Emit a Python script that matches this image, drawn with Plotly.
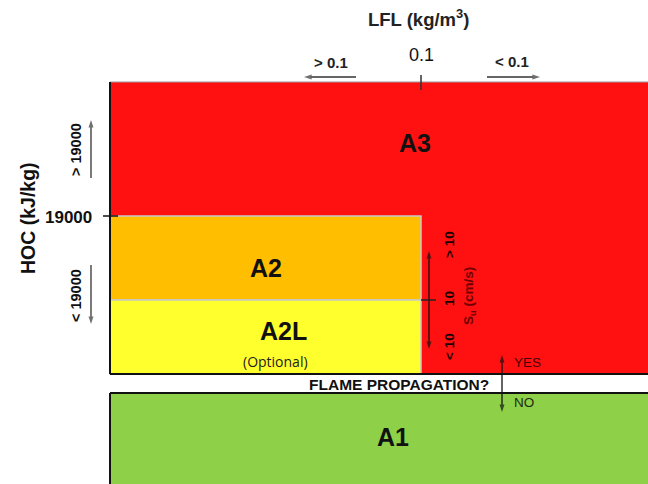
import plotly.graph_objects as go

# ---------------- data (classification scheme) ----------------
classes = ["A3", "A2", "A2L", "A1"]
class_notes = ["", "", "(Optional)", ""]
lfl_labels = ["> 0.1", "0.1", "< 0.1"]          # LFL (kg/m3) threshold
hoc_labels = ["> 19000", "19000", "< 19000"]    # HOC (kJ/kg) threshold
su_labels = ["> 10", "10", "< 10"]              # burning velocity Su (cm/s)
flame_labels = ["YES", "NO"]
axis_titles = ["LFL (kg/m<sup>3</sup>)", "HOC (kJ/kg)", "S<sub>u</sub> (cm/s)", "FLAME PROPAGATION?"]

# ---------------- styles ----------------
fill = {"A3": "#FF1111", "A2": "#FFBF00", "A2L": "#FFFF2E", "A1": "#8ED149"}
edge = {"A3": "#9a9a9a", "A2": "#C9C9C9", "A2L": "#C9C9C9", "A1": "#555555"}
FONT = "Liberation Sans, Arial, sans-serif"

# ---------------- diagram geometry (schematic units) ----------------
X0, X_LFL, X1 = 110, 421, 648
Y_TOP, Y_HOC, Y_SU, Y_FLAM, Y_A1, Y_BOT = 82, 216, 300, 374, 393, 484
boxes = {
    "A3": (X0, Y_TOP, X1 + 10, Y_FLAM),
    "A2": (X0, Y_HOC, X_LFL, Y_SU),
    "A2L": (X0, Y_SU, X_LFL, Y_FLAM),
    "A1": (X0, Y_A1, X1 + 10, Y_BOT + 10),
}
label_pos = {"A3": (415, 143), "A2": (266, 268), "A2L": (283, 331), "A1": (393, 437)}

fig = go.Figure()

shapes = []
for c in classes:
    xa, ya, xb, yb = boxes[c]
    shapes.append(dict(type="rect", xref="x", yref="y", x0=xa, y0=ya, x1=xb, y1=yb,
                       fillcolor=fill[c],
                       line=dict(color=edge[c], width=1.5 if c in ("A2", "A2L") else 1),
                       layer="below"))
line_k = dict(color="#111111", width=2)
shapes += [
    dict(type="line", xref="x", yref="y", x0=X0, y0=Y_TOP, x1=X0, y1=Y_FLAM, line=line_k),
    dict(type="line", xref="x", yref="y", x0=X0, y0=Y_FLAM, x1=X1 + 10, y1=Y_FLAM, line=line_k),
    dict(type="line", xref="x", yref="y", x0=X0, y0=Y_A1, x1=X1 + 10, y1=Y_A1, line=line_k),
    dict(type="line", xref="x", yref="y", x0=X0, y0=Y_A1, x1=X0, y1=Y_BOT + 10, line=line_k),
    dict(type="line", xref="x", yref="y", x0=X_LFL, y0=75, x1=X_LFL, y1=90,
         line=dict(color="#333333", width=1.5)),
    dict(type="line", xref="x", yref="y", x0=103, y0=Y_HOC, x1=118, y1=Y_HOC,
         line=dict(color="#111111", width=1.5)),
    dict(type="line", xref="x", yref="y", x0=X_LFL, y0=Y_SU, x1=436, y1=Y_SU,
         line=dict(color="#222222", width=1.5)),
]

ann = []

def esc(s):
    if s.startswith("<"):
        return "&lt;" + s[1:]
    if s.startswith(">"):
        return "&gt;" + s[1:]
    return s

def text(x, y, s, size, bold=True, color="#111111", angle=0, family=FONT, xanchor="center"):
    ann.append(dict(x=x, y=y, xref="x", yref="y", text=f"<b>{s}</b>" if bold else s,
                    showarrow=False, textangle=angle, xanchor=xanchor, yanchor="middle",
                    font=dict(size=size, color=color, family=family)))

def arrow(xt, yt, xh, yh, color="#333333"):
    fig.add_trace(go.Scatter(
        x=[xt, xh], y=[yt, yh], mode="lines+markers",
        line=dict(color=color, width=1.3),
        marker=dict(symbol="arrow", angleref="previous", size=[0, 8], color=color,
                    line=dict(width=0)),
        hoverinfo="skip", showlegend=False))

for c, note in zip(classes, class_notes):
    x, y = label_pos[c]
    text(x, y, c, 25)
    if note:
        text(275, 361, note, 14, bold=False, family="Open Sans, sans-serif", color="#222222")

# LFL header
text(418, 18, axis_titles[0], 18.5, color="#222222")
text(331, 62, esc(lfl_labels[0]), 15, color="#222222")
text(421, 55, lfl_labels[1], 18, bold=False, color="#111111")
text(512, 61, esc(lfl_labels[2]), 15, color="#222222")
arrow(356, 77, 304, 77)
arrow(487, 77, 540, 77)

# HOC side
text(28, 218, axis_titles[1], 19.5, angle=-90, color="#111111")
text(68, 217, hoc_labels[1], 17, color="#111111")
text(76, 150, esc(hoc_labels[0]), 14.5, angle=-90, color="#111111")
text(76, 296, esc(hoc_labels[2]), 14.5, angle=-90, color="#111111")
arrow(91, 178, 91, 120)
arrow(91, 265, 91, 324)

# Su side
arrow(429, 300, 429, 251, color="#111111")
arrow(429, 300, 429, 349, color="#111111")
text(449, 245, esc(su_labels[0]), 13.5, angle=-90, color="#1a0000")
text(449, 299, su_labels[1], 13.5, angle=-90, color="#1a0000")
text(449, 347, esc(su_labels[2]), 13.5, angle=-90, color="#1a0000")
text(469, 296, axis_titles[2], 13.5, angle=-90, color="#6e0000")

# flame propagation
text(399, 384, axis_titles[3], 15.5, color="#111111")
arrow(502, 383, 502, 355, color="#111111")
arrow(502, 383, 502, 412, color="#111111")
text(512, 362, flame_labels[0], 13.5, bold=False, color="#4a0000", xanchor="left")
text(512, 402, flame_labels[1], 13.5, bold=False, color="#1e2a12", xanchor="left")

fig.update_layout(
    width=648, height=484,
    margin=dict(l=0, r=0, t=0, b=0, autoexpand=False),
    paper_bgcolor="white", plot_bgcolor="white",
    xaxis=dict(range=[0, 648], visible=False, fixedrange=True),
    yaxis=dict(range=[484, 0], visible=False, fixedrange=True),
    shapes=shapes, annotations=ann, showlegend=False,
)
fig.write_html("out.html", config={"displayModeBar": False},
               post_script="document.body.style.margin='0';document.body.style.overflow='hidden';")
